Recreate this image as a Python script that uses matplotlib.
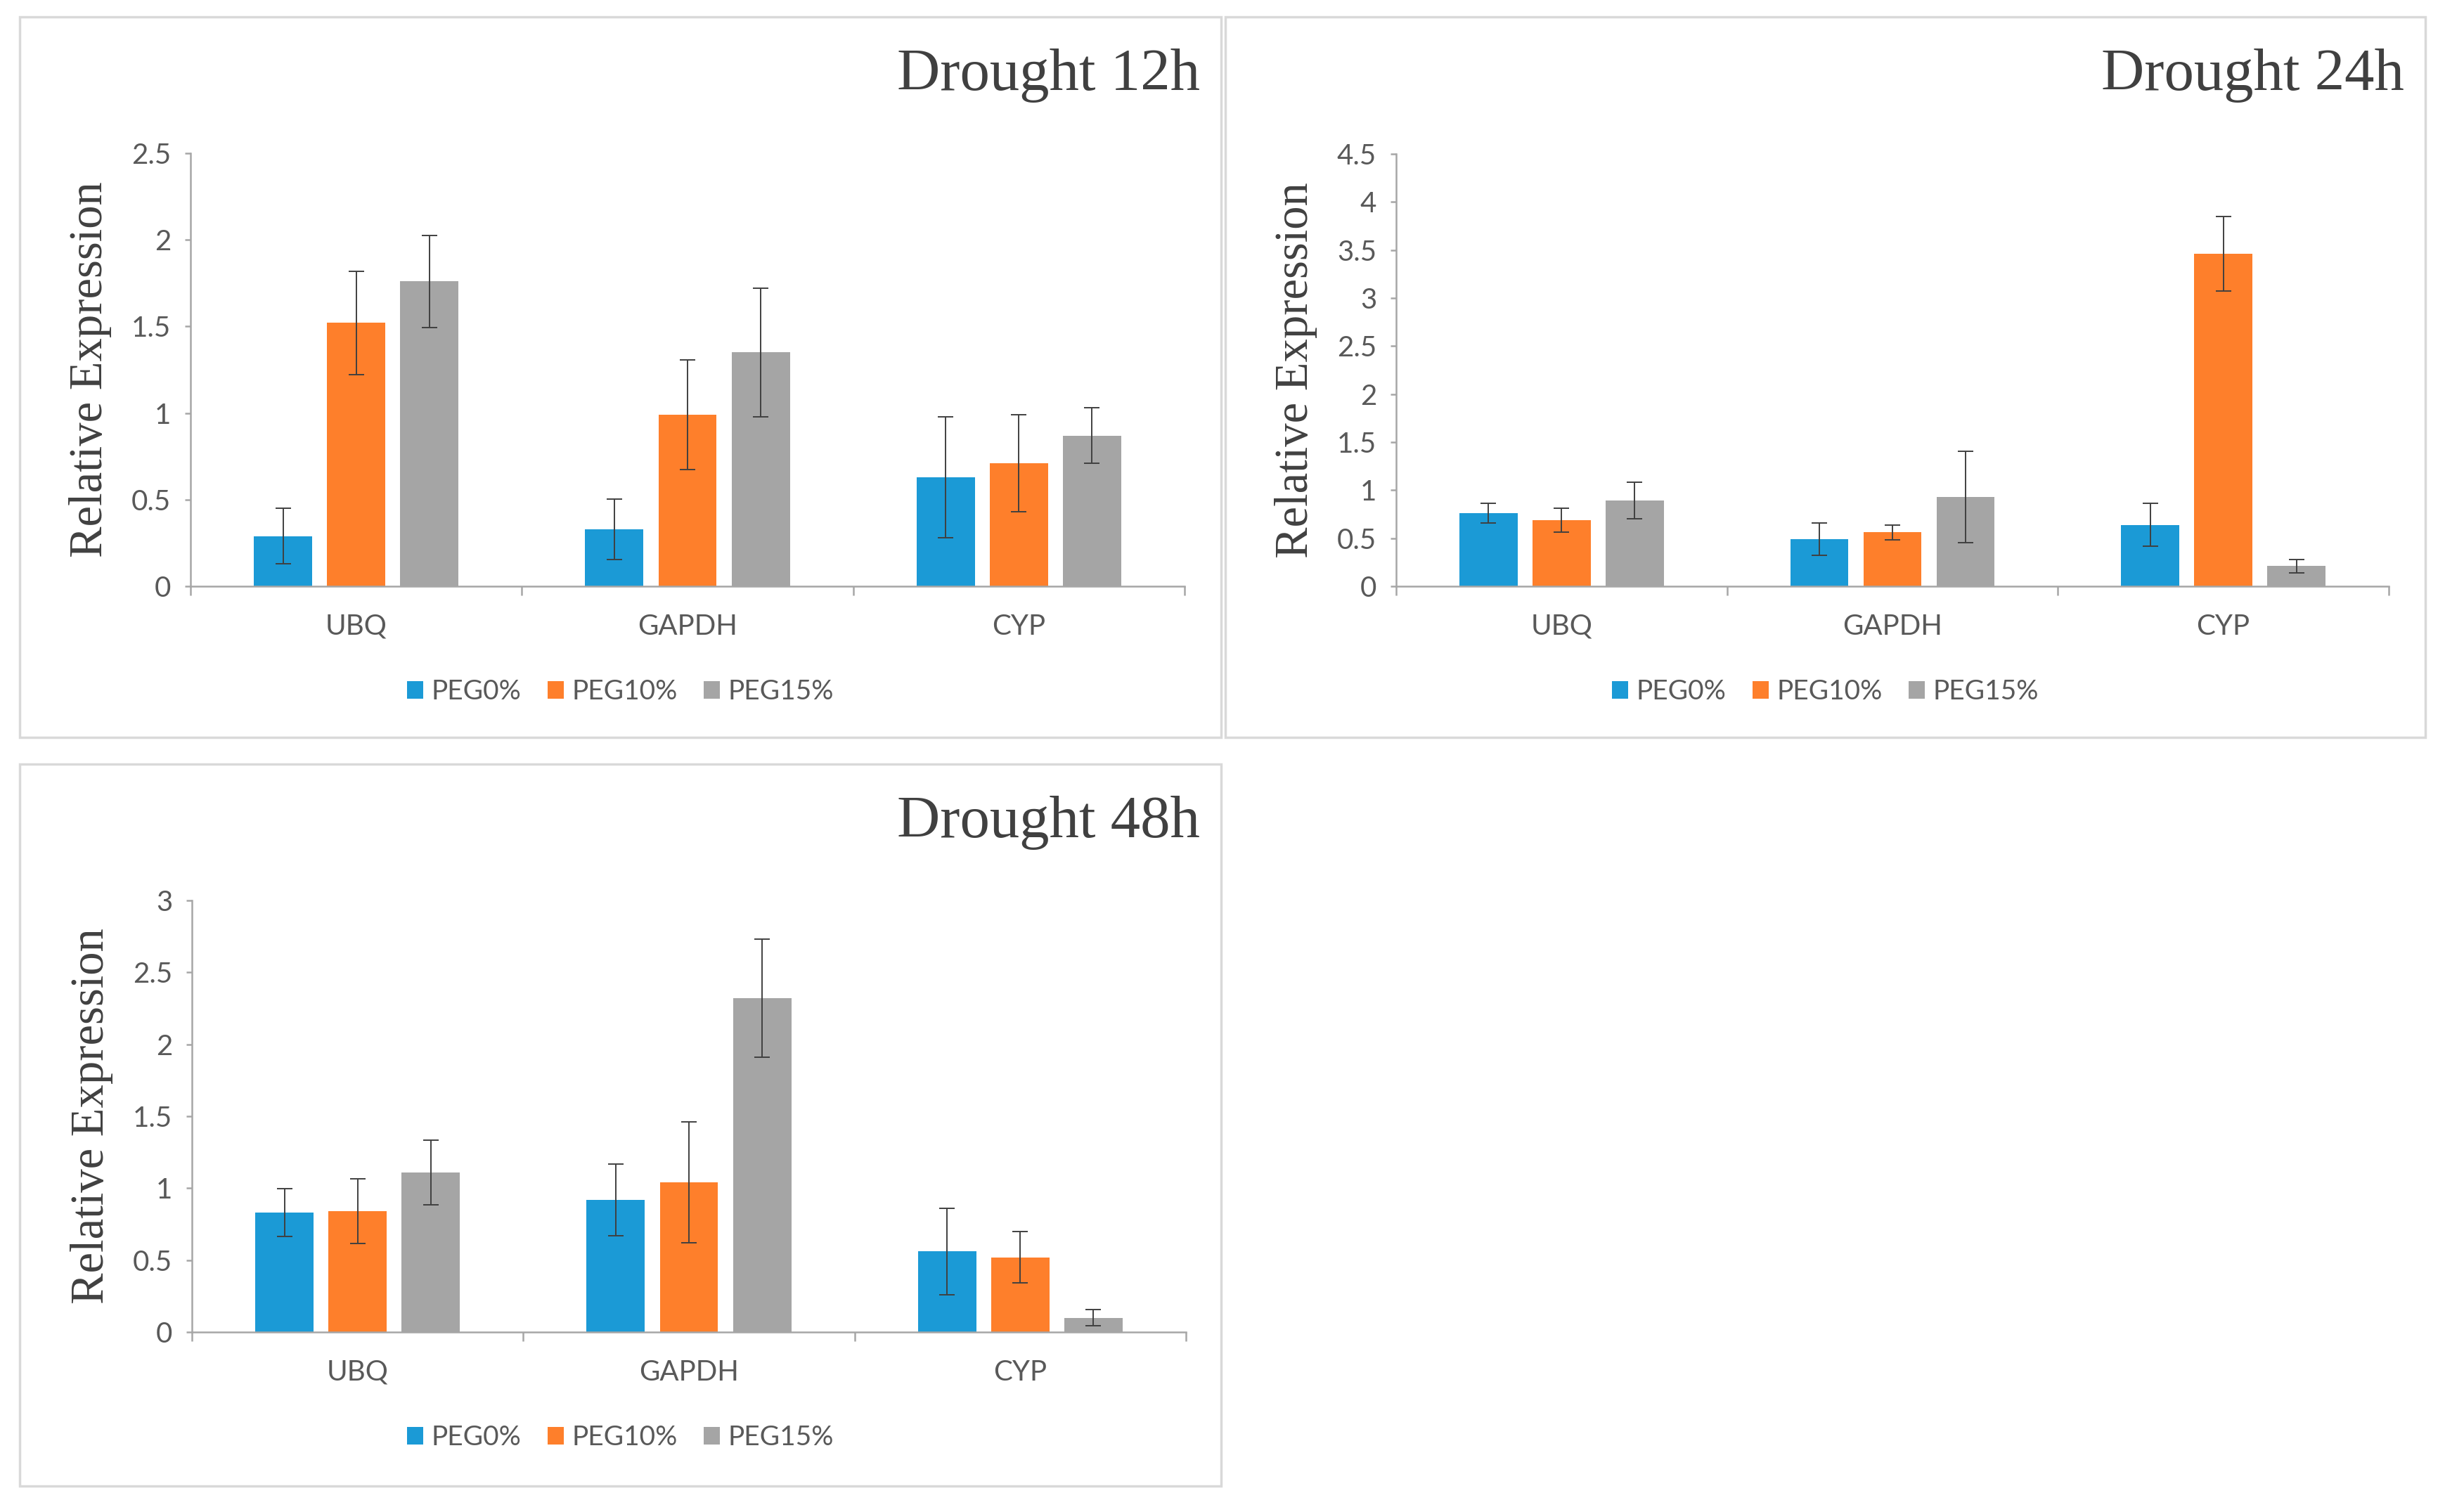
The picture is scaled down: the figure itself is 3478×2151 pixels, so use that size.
import numpy as np
import matplotlib
matplotlib.use("Agg")
import matplotlib.pyplot as plt
from matplotlib.patches import Rectangle, Patch

# data
genes = ["UBQ", "GAPDH", "CYP"]
treatments = ["PEG0%", "PEG10%", "PEG15%"]

d12_peg0 = [0.29, 0.33, 0.63]
d12_peg10 = [1.52, 0.99, 0.71]
d12_peg15 = [1.76, 1.35, 0.87]
d12_err0 = [0.16, 0.175, 0.35]
d12_err10 = [0.30, 0.315, 0.28]
d12_err15 = [0.265, 0.37, 0.16]

d24_peg0 = [0.76, 0.49, 0.64]
d24_peg10 = [0.69, 0.56, 3.46]
d24_peg15 = [0.89, 0.93, 0.21]
d24_err0 = [0.10, 0.165, 0.22]
d24_err10 = [0.125, 0.08, 0.39]
d24_err15 = [0.19, 0.475, 0.07]

d48_peg0 = [0.83, 0.92, 0.56]
d48_peg10 = [0.84, 1.04, 0.52]
d48_peg15 = [1.11, 2.32, 0.10]
d48_err0 = [0.165, 0.25, 0.30]
d48_err10 = [0.225, 0.42, 0.18]
d48_err15 = [0.225, 0.41, 0.056]

colors = ["#1b9ad6", "#fe7f2b", "#a5a5a5"]
W, H = 3478, 2151
SANS = ["Lato", "DejaVu Sans"]
SERIF = ["Liberation Serif", "DejaVu Serif"]


def fx(px):
    return px / W


def fy(py):
    return 1 - py / H


def draw_panel(fig, box, axrect, title, vals, errs, ymax, ystep):
    bx0, by0, bx1, by1 = box
    fig.patches.append(Rectangle((fx(bx0), fy(by1)), (bx1 - bx0) / W, (by1 - by0) / H,
                                 transform=fig.transFigure, fill=False,
                                 edgecolor="#d9d9d9", lw=2.5))
    x0, y0, x1, y1 = axrect
    ax = fig.add_axes([fx(x0), fy(y1), (x1 - x0) / W, (y1 - y0) / H])
    x = np.arange(len(genes))
    offs = [-0.221, 0, 0.221]
    for i in range(3):
        ax.bar(x + offs[i], vals[i], width=0.176, color=colors[i], zorder=2)
        ax.errorbar(x + offs[i], vals[i], yerr=errs[i], fmt="none", ecolor="#404040",
                    elinewidth=1.4, capsize=8, capthick=1.4, zorder=3)
    ax.set_xlim(-0.5, 2.5)
    ax.set_ylim(0, ymax)
    ticks = np.arange(0, ymax + 1e-9, ystep)
    ax.set_yticks(ticks)
    ax.set_yticklabels([f"{v:g}" for v in ticks])
    ax.set_xticks(x)
    ax.set_xticklabels(genes)
    ax.set_xticks([-0.5, 0.5, 1.5, 2.5], minor=True)
    for s in ["top", "right"]:
        ax.spines[s].set_visible(False)
    for s in ["left", "bottom"]:
        ax.spines[s].set_color("#a6a6a6")
        ax.spines[s].set_linewidth(1.8)
    ax.tick_params(axis="x", which="major", length=0, pad=28, labelsize=29, labelcolor="#595959")
    ax.tick_params(axis="x", which="minor", length=9, width=1.8, color="#a6a6a6")
    ax.tick_params(axis="y", length=6, width=1.8, color="#a6a6a6", pad=14,
                   labelsize=29, labelcolor="#595959")
    for lab in ax.get_xticklabels() + ax.get_yticklabels():
        lab.set_family(SANS)

    fig.text(fx(bx1 - 30), fy(by0 + 104), title, ha="right", va="baseline",
             fontsize=61, family=SERIF, color="#404040")
    fig.text(fx(x0 - 142), fy((y0 + y1) / 2), "Relative Expression", rotation=90,
             ha="center", va="center", fontsize=48, family=SERIF, color="#404040")
    handles = [Patch(facecolor=c) for c in colors]
    ax.legend(handles, treatments, loc="center",
              bbox_to_anchor=(fx((bx0 + bx1) / 2), fy(y1 + 150)),
              bbox_transform=fig.transFigure, ncol=3, frameon=False,
              prop={"family": SANS, "size": 28}, labelcolor="#595959",
              handlelength=0.6, handleheight=0.6, handletextpad=0.3,
              columnspacing=0.95)
    return ax


fig = plt.figure(figsize=(W / 100, H / 100), dpi=100)
fig.patch.set_facecolor("white")

draw_panel(fig, (28, 24, 1737, 1049), (271, 218, 1685, 834), "Drought 12h",
           [d12_peg0, d12_peg10, d12_peg15], [d12_err0, d12_err10, d12_err15], 2.5, 0.5)
draw_panel(fig, (1743, 24, 3450, 1049), (1986, 219, 3398, 834), "Drought 24h",
           [d24_peg0, d24_peg10, d24_peg15], [d24_err0, d24_err10, d24_err15], 4.5, 0.5)
draw_panel(fig, (28, 1087, 1737, 2114), (273, 1281, 1687, 1895), "Drought 48h",
           [d48_peg0, d48_peg10, d48_peg15], [d48_err0, d48_err10, d48_err15], 3.0, 0.5)

fig.savefig("out.png", dpi=100)
